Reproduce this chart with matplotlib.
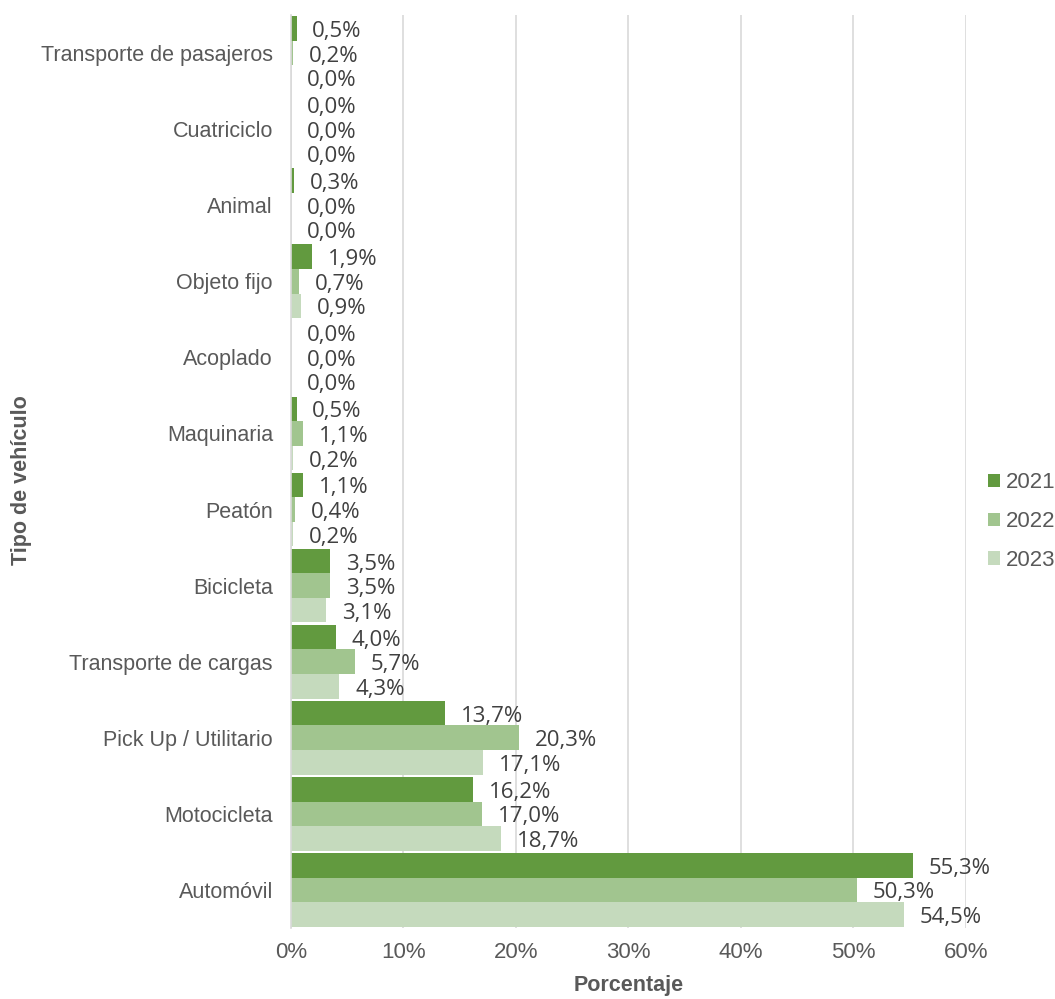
import numpy as np
import matplotlib.pyplot as plt

categorias = ["Transporte de pasajeros", "Cuatriciclo", "Animal", "Objeto fijo", "Acoplado",
              "Maquinaria", "Peatón", "Bicicleta", "Transporte de cargas",
              "Pick Up / Utilitario", "Motocicleta", "Automóvil"]
anios = ["2021", "2022", "2023"]
v2021 = [0.5, 0.0, 0.3, 1.9, 0.0, 0.5, 1.1, 3.5, 4.0, 13.7, 16.2, 55.3]
v2022 = [0.2, 0.0, 0.0, 0.7, 0.0, 1.1, 0.4, 3.5, 5.7, 20.3, 17.0, 50.3]
v2023 = [0.0, 0.0, 0.0, 0.9, 0.0, 0.2, 0.2, 3.1, 4.3, 17.1, 18.7, 54.5]
colores = ["#629A3F", "#A1C58F", "#C5DABD"]

fig = plt.figure(figsize=(10.55, 9.99), dpi=100)
ax = fig.add_axes([0.2758, 0.0711, 0.6398, 0.9139])

y = np.arange(len(categorias))
h = 0.323
for k, (vals, col, lab) in enumerate(zip([v2021, v2022, v2023], colores, anios)):
    pos = y + (k - 1) * h
    ax.barh(pos, vals, height=h, color=col, label=lab, zorder=2)
    for p, v in zip(pos, vals):
        ax.text(v + 1.4, p + 0.04, f"{v:.1f}%".replace(".", ","), va="center", ha="left",
                fontsize=16, family="Open Sans", color="#404040")

ax.set_xlim(0, 60)
ax.set_ylim(len(categorias) - 0.5, -0.5)
ax.set_xticks(np.arange(0, 61, 10))
ax.set_xticklabels([f"{t}%" for t in range(0, 61, 10)])
ax.set_yticks(y)
ax.set_yticklabels(categorias)
ax.grid(axis="x", color="#D9D9D9", linewidth=1.2, zorder=0)
for s in ["top", "right", "bottom"]:
    ax.spines[s].set_visible(False)
ax.spines["left"].set_color("#D9D9D9")
ax.spines["left"].set_linewidth(1.2)
ax.tick_params(length=0, labelcolor="#595959")
ax.tick_params(axis="y", labelsize=15.5, pad=13)
ax.tick_params(axis="x", labelsize=16, pad=10)
for t in ax.get_xticklabels() + ax.get_yticklabels():
    t.set_family("Liberation Sans")

ax.set_xlabel("Porcentaje", fontsize=15.5, color="#595959", family="Liberation Sans",
              fontweight="bold", labelpad=9)
ax.set_ylabel("Tipo de vehículo", fontsize=15.5, color="#595959", family="Liberation Sans",
              fontweight="bold")
ax.yaxis.set_label_coords(-0.383, 0.49)

leg = ax.legend(loc="center left", bbox_to_anchor=(1.0, 0.445), frameon=False,
                prop={"family": "Liberation Sans", "size": 16}, handlelength=0.55,
                handleheight=0.55, handletextpad=0.25, labelspacing=0.8,
                borderaxespad=0.6)
for t in leg.get_texts():
    t.set_color("#595959")

fig.savefig("out.png", dpi=100)
